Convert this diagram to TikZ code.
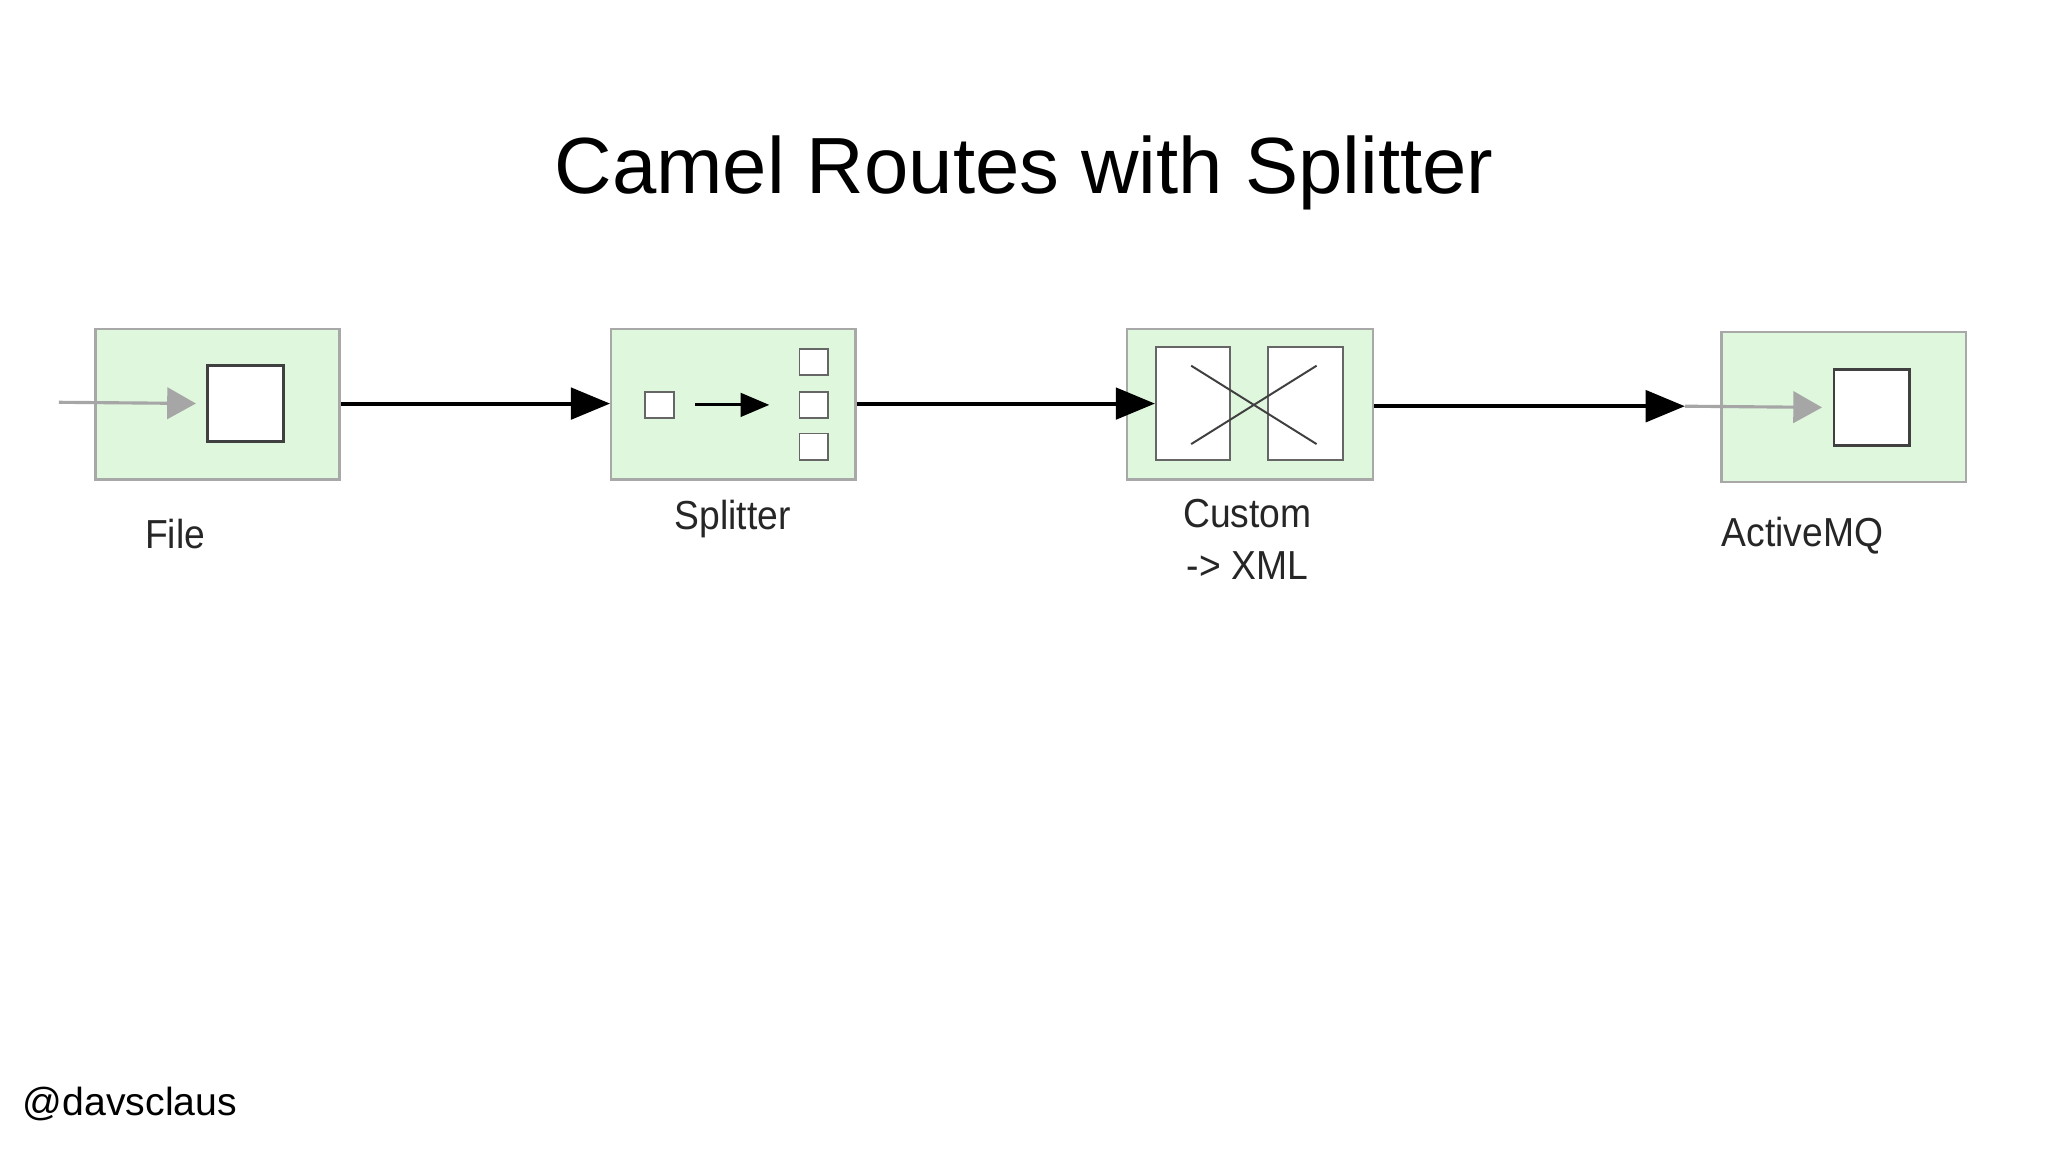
\documentclass[tikz,border=0pt]{standalone}
\usepackage{fontspec}
\setmainfont{Liberation Sans}
\usetikzlibrary{arrows.meta}
\definecolor{boxfill}{HTML}{DFF7DC}
\definecolor{boxline}{HTML}{A8A8A8}
\begin{document}
\begin{tikzpicture}[x=1pt,y=-1pt,
  comp/.style={draw=boxline,line width=1.8pt,fill=boxfill},
  inner/.style={draw=black!75,line width=2pt,fill=white},
  small/.style={draw=black!60,line width=1.2pt,fill=white},
  flow/.style={line width=3.2pt,-{Triangle[length=30pt,width=24pt]}},
  gflow/.style={draw=black!35,line width=2.4pt,shorten >=8pt,-{Triangle[length=22pt,width=24pt,fill=black!35]}},
  lbl/.style={font=\fontsize{31}{36}\selectfont,text=black!85,inner sep=0pt,xscale=0.92}]
\useasboundingbox (0,0) rectangle (1568,882);
\fill[white] (0,0) rectangle (1568,882);
\node[font=\fontsize{61}{70}\selectfont] (title) at (784,132) {Camel Routes with Splitter};
\node[anchor=west,font=\fontsize{30}{36}\selectfont] (sig) at (14,845) {@davsclaus};
% File
\node[comp,minimum width=187pt,minimum height=115pt,inner sep=0pt] (file) at (166.5,309.5) {};
\node[inner,minimum width=58pt,minimum height=58pt,inner sep=0pt] (fsq) at (188,309) {};
\coordinate (fin) at (45,308);
\draw[gflow] (fin) -- (fsq.west);
\node[lbl] (lfile) at (134,409) {File};
% Splitter
\node[comp,minimum width=187pt,minimum height=115pt,inner sep=0pt] (split) at (561.5,309.5) {};
\node[small,minimum width=22pt,minimum height=20pt,inner sep=0pt] (s0) at (505,310) {};
\coordinate (sa) at (532,310);
\coordinate (sb) at (589,310);
\draw[line width=2.4pt,-{Triangle[length=22pt,width=18pt]}] (sa) -- (sb);
\node[small,minimum width=22pt,minimum height=20pt,inner sep=0pt] (s1) at (623,277) {};
\node[small,minimum width=22pt,minimum height=20pt,inner sep=0pt] (s2) at (623,310) {};
\node[small,minimum width=22pt,minimum height=20pt,inner sep=0pt] (s3) at (623,342) {};
\node[lbl] (lsplit) at (561,397) {Splitter};
% Custom
\node[comp,minimum width=188pt,minimum height=115pt,inner sep=0pt] (cust) at (957,309.5) {};
\node[small,line width=1.5pt,minimum width=57pt,minimum height=86pt,inner sep=0pt] (c1) at (913.5,309) {};
\node[small,line width=1.5pt,minimum width=57pt,minimum height=86pt,inner sep=0pt] (c2) at (999.5,309) {};
\coordinate (x1) at (912,280); \coordinate (x2) at (1008,340);
\coordinate (x3) at (912,340); \coordinate (x4) at (1008,280);
\draw[line width=1.5pt,black!75] (x1) -- (x2) (x3) -- (x4);
\node[lbl,align=center,font=\fontsize{31}{40}\selectfont] (lcust) at (955,413) {Custom\\-> XML};
% ActiveMQ
\node[comp,minimum width=187pt,minimum height=115pt,inner sep=0pt] (amq) at (1411.5,311.5) {};
\node[inner,minimum width=58pt,minimum height=58pt,inner sep=0pt] (asq) at (1433,312) {};
\coordinate (ain) at (1290,311);
\draw[gflow] (ain) -- (asq.west);
\node[lbl] (lamq) at (1380,410) {ActiveMQ};
% connectors
\draw[flow] (file.east |- 0,309) -- (split.west |- 0,309);
\draw[flow] (split.east |- 0,309) -- (c1.west |- 0,309);
\draw[flow] (cust.east |- 0,311) -- (ain);
\end{tikzpicture}
\end{document}
